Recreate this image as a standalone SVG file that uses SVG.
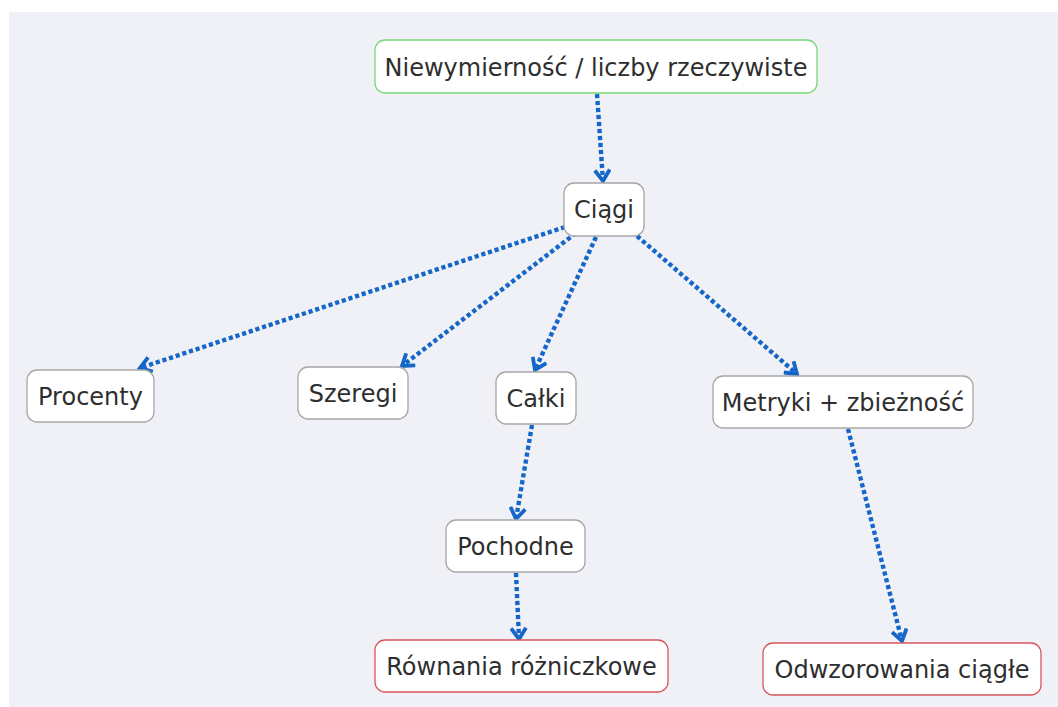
<svg xmlns="http://www.w3.org/2000/svg" width="1058" height="707" viewBox="0 0 1058 707">
  <defs>
    <style>
      .node rect { fill: #ffffff; stroke: #a6a6a6; stroke-width: 1.3; }
      .node.root rect { stroke: #77d877; }
      .node.leaf rect { stroke: #d9565b; }
      .node text { font-family: "DejaVu Sans", Verdana, sans-serif; font-size: 24px; fill: #2e2e2e; text-anchor: middle; }
      .link { fill: none; stroke: #1466c8; stroke-width: 4.4; stroke-dasharray: 4.2 2.8; marker-end: url(#chev); }
    </style>
    <marker id="chev" markerUnits="userSpaceOnUse" viewBox="0 0 16 18" refX="13" refY="9" markerWidth="16" markerHeight="18" orient="auto">
      <path d="M2,1.5 L13,9 L2,16.5" fill="none" stroke="#1466c8" stroke-width="3.8"/>
    </marker>
  </defs>

  <rect x="0" y="0" width="1058" height="707" fill="#ffffff"/>
  <rect x="9" y="12" width="1049" height="695" fill="#f0f1f7"/>

  <g id="connectors">
    <path class="link" d="M597,94 L603,181"/>
    <path class="link" d="M565,227 L140,368"/>
    <path class="link" d="M576,233 L402,366"/>
    <path class="link" d="M596,237 L535,370"/>
    <path class="link" d="M637,236 L797,374"/>
    <path class="link" d="M532,425 L516,519"/>
    <path class="link" d="M516,573 L519,639"/>
    <path class="link" d="M848,429 L902,641"/>
  </g>

  <g id="n-root" class="node root">
    <rect x="375" y="40" width="442" height="53" rx="10"/>
    <text x="596" y="76">Niewymierność / liczby rzeczywiste</text>
  </g>
  <g id="n-ciagi" class="node">
    <rect x="564" y="183" width="80" height="53" rx="10"/>
    <text x="604" y="218">Ciągi</text>
  </g>
  <g id="n-procenty" class="node">
    <rect x="27" y="370" width="127" height="52" rx="10"/>
    <text x="90.5" y="405">Procenty</text>
  </g>
  <g id="n-szeregi" class="node">
    <rect x="298" y="367" width="110" height="52" rx="10"/>
    <text x="353" y="402">Szeregi</text>
  </g>
  <g id="n-calki" class="node">
    <rect x="496" y="372" width="80" height="52" rx="10"/>
    <text x="536" y="407">Całki</text>
  </g>
  <g id="n-metryki" class="node">
    <rect x="713" y="376" width="260" height="52" rx="10"/>
    <text x="843" y="411">Metryki + zbieżność</text>
  </g>
  <g id="n-pochodne" class="node">
    <rect x="446" y="520" width="139" height="52" rx="10"/>
    <text x="515.5" y="555">Pochodne</text>
  </g>
  <g id="n-rownania" class="node leaf">
    <rect x="375" y="640" width="293" height="52" rx="10"/>
    <text x="521.5" y="675">Równania różniczkowe</text>
  </g>
  <g id="n-odwzorowania" class="node leaf">
    <rect x="763" y="643" width="278" height="52" rx="10"/>
    <text x="902" y="678">Odwzorowania ciągłe</text>
  </g>
</svg>
